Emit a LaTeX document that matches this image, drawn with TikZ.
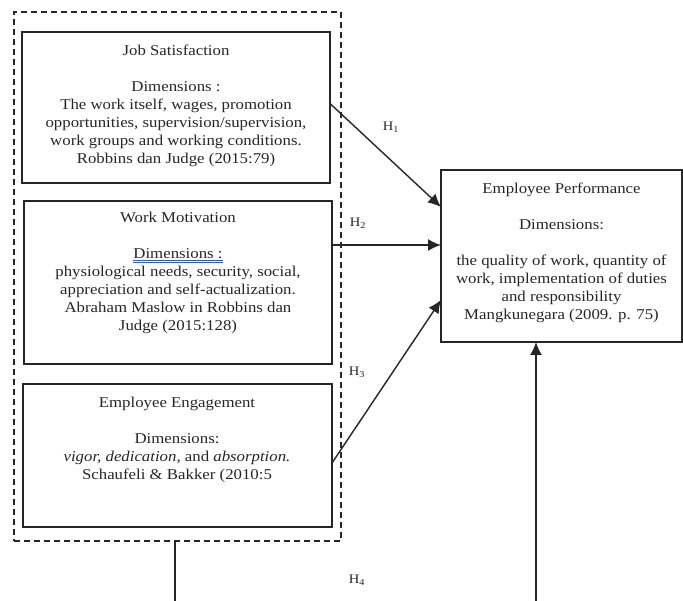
\documentclass[tikz,border=0pt]{standalone}
\usepackage{fontspec}
\setmainfont{Liberation Serif}[FakeStretch=1.12]
\usetikzlibrary{arrows.meta}
\definecolor{ink}{RGB}{38,38,38}
\definecolor{spell}{RGB}{40,90,230}
\begin{document}
\begin{tikzpicture}[x=1pt,y=-1pt,
  box/.style={draw=ink,line width=1.6pt,inner sep=0pt,outer sep=0pt,anchor=north west},
  grpbox/.style={draw=ink,line width=1.2pt,dash pattern=on 6pt off 4pt,inner sep=0pt,outer sep=0pt,anchor=north west},
  txt/.style={text=ink,align=center,inner sep=0pt,anchor=north,font=\fontsize{15}{18}\selectfont},
  hl/.style={text=ink,inner sep=0pt,font=\fontsize{13}{15}\selectfont},
  arr/.style={draw=ink,line width=1.4pt,-{Latex[length=13pt,width=12pt]}},
  ln/.style={draw=ink,line width=1.4pt}]
\useasboundingbox (0,0) rectangle (683,601);

\node[grpbox,minimum width=327pt,minimum height=529pt] (grp) at (14,12) {};
\node[box,minimum width=308pt,minimum height=151pt] (js) at (22,32) {};
\node[box,minimum width=308pt,minimum height=163pt] (wm) at (24,201) {};
\node[box,minimum width=309pt,minimum height=143pt] (ee) at (23,384) {};
\node[box,minimum width=241pt,minimum height=172pt] (ep) at (441,170) {};

\node[txt] (jst) at (176,45) {Job Satisfaction\\[18pt]Dimensions :\\The work itself, wages, promotion\\opportunities, supervision/supervision,\\work groups and working conditions.\\Robbins dan Judge (2015:79)};
\node[txt] (wmt) at (178,212) {Work Motivation\\[18pt]{\color{spell}\underline{\underline{\color{ink}Dimensions :}}}\\physiological needs, security, social,\\appreciation and self-actualization.\\Abraham Maslow in Robbins dan\\Judge (2015:128)};
\node[txt] (eet) at (177,397) {Employee Engagement\\[18pt]Dimensions:\\\textit{vigor, dedication}, and \textit{absorption.}\\Schaufeli \& Bakker (2010:5};
\node[txt] (ept) at (561.5,183) {Employee Performance\\[18pt]Dimensions:\\[18pt]the quality of work, quantity of\\work, implementation of duties\\and responsibility\\Mangkunegara (2009. p. 75)};

\draw[arr] ([yshift=4pt]js.east) -- ([yshift=49pt]ep.west);
\draw[arr] ([yshift=37.5pt]wm.east) -- ([yshift=11pt]ep.west);
\draw[arr] ([yshift=-7.5pt]ee.east) -- ([yshift=-44pt]ep.west);

\node[hl] (h1) at (391,127) {H\textsubscript{1}};
\node[hl] (h2) at (358,223) {H\textsubscript{2}};
\node[hl] (h3) at (357,372) {H\textsubscript{3}};
\node[hl] (h4) at (357,580) {H\textsubscript{4}};

\coordinate (b1) at (175,601);
\coordinate (b2) at (536,601);
\draw[ln] (grp.south -| b1) -- (b1);
\draw[arr] (b2) -- (ep.south -| b2);
\end{tikzpicture}
\end{document}
